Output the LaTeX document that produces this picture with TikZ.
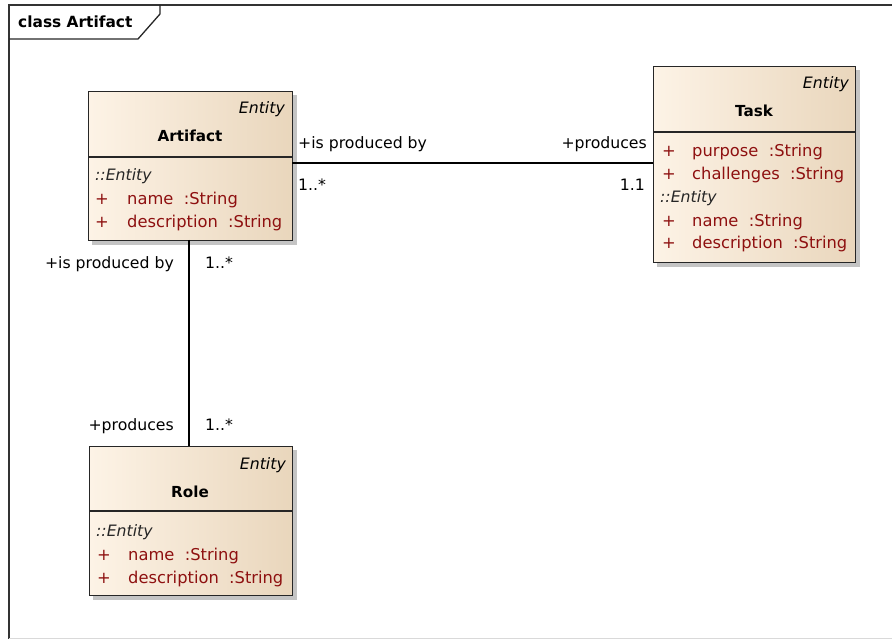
\documentclass[tikz,border=0pt]{standalone}
\usepackage{fontspec}
\setmainfont{DejaVu Sans}
\definecolor{attr}{HTML}{8E1010}
\definecolor{boxl}{HTML}{FDF3E6}
\definecolor{boxr}{HTML}{E9D6BC}
\definecolor{shad}{HTML}{C4C4C4}
\begin{document}
\begin{tikzpicture}[x=1pt,y=-1pt,
  every node/.style={inner sep=0pt,font=\fontsize{15.7}{18}\selectfont},
  cbox/.style={draw=black!85,line width=1.3pt,left color=boxl,right color=boxr},
  stereo/.style={anchor=base east,font=\fontsize{15.7}{18}\selectfont\itshape},
  cname/.style={anchor=base,font=\fontsize{15.2}{18}\selectfont\bfseries},
  plus/.style={anchor=base west,text=attr,font=\fontsize{16.3}{18}\selectfont},
  attrtxt/.style={anchor=base west,text=attr,font=\fontsize{16.3}{18}\selectfont},
  inh/.style={anchor=base west,font=\fontsize{15.7}{18}\selectfont\itshape,text=black!85},
  lbl/.style={text=black},
  conn/.style={draw=black,line width=1.2pt}]
\useasboundingbox (0,0) rectangle (892,639);
% frame
\draw[line width=1.3pt,black!80] (9,639) -- (9,5) -- (892,5);
\draw[line width=1pt,black!15] (9,638) -- (892,638);
\draw[line width=1.3pt,black!85] (9,39) -- (138,39) -- (160,14) -- (160,5);
\node[anchor=base west,font=\fontsize{15.4}{18}\selectfont\bfseries] (title) at (18,28) {class Artifact};

% Artifact
\fill[shad] (92,95) rectangle (297,245);
\node[cbox,minimum width=204,minimum height=149,anchor=north west] (artifact) at (88,91) {};
\draw[black!85,line width=1.2pt] (88,157) -- (292,157);
\node[stereo] (artst) at (285,114) {Entity};
\node[cname] (artnm) at (190,142) {Artifact};
\node[inh] (artin) at (95,181) {::Entity};
\node[plus] (artp1) at (95,205) {+};
\node[attrtxt] (arta1) at (127,205) {name\ \ :String};
\node[plus] (artp2) at (95,228) {+};
\node[attrtxt] (arta2) at (127,228) {description\ \ :String};

% Task
\fill[shad] (657,70) rectangle (860,267);
\node[cbox,minimum width=202,minimum height=196,anchor=north west] (task) at (653,66) {};
\draw[black!85,line width=1.2pt] (653,132) -- (855,132);
\node[stereo] (taskst) at (849,89) {Entity};
\node[cname] (tasknm) at (754,117) {Task};
\node[plus] (taskp1) at (662,157) {+};
\node[attrtxt] (taska1) at (692,157) {purpose\ \ :String};
\node[plus] (taskp2) at (662,180) {+};
\node[attrtxt] (taska2) at (692,180) {challenges\ \ :String};
\node[inh] (taskin) at (660,203) {::Entity};
\node[plus] (taskp3) at (662,227) {+};
\node[attrtxt] (taska3) at (692,227) {name\ \ :String};
\node[plus] (taskp4) at (662,249) {+};
\node[attrtxt] (taska4) at (692,249) {description\ \ :String};

% Role
\fill[shad] (93,450) rectangle (297,600);
\node[cbox,minimum width=203,minimum height=149,anchor=north west] (role) at (89,446) {};
\draw[black!85,line width=1.2pt] (89,511) -- (292,511);
\node[stereo] (rolest) at (286,469) {Entity};
\node[cname] (rolenm) at (190,497) {Role};
\node[inh] (rolein) at (96,536) {::Entity};
\node[plus] (rolep1) at (97,560) {+};
\node[attrtxt] (rolea1) at (128,560) {name\ \ :String};
\node[plus] (rolep2) at (97,583) {+};
\node[attrtxt] (rolea2) at (128,583) {description\ \ :String};

% connectors
\coordinate (h1) at (292,163);
\coordinate (h2) at (653,163);
\draw[conn] (h1) -- (h2);
\coordinate (v1) at (189,240);
\coordinate (v2) at (189,446);
\draw[conn] (v1) -- (v2);

% labels
\node[lbl,anchor=base west] (l1) at (298,149) {+is produced by};
\node[lbl,anchor=base east] (l2) at (647,149) {+produces};
\node[lbl,anchor=base west] (l3) at (298,191) {1..*};
\node[lbl,anchor=base east] (l4) at (645,191) {1.1};
\node[lbl,anchor=base east] (l5) at (174,269) {+is produced by};
\node[lbl,anchor=base west] (l6) at (205,269) {1..*};
\node[lbl,anchor=base east] (l7) at (174,430) {+produces};
\node[lbl,anchor=base west] (l8) at (205,430) {1..*};
\end{tikzpicture}
\end{document}
